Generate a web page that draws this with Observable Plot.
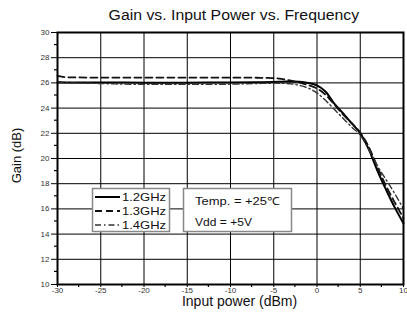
<!DOCTYPE html>
<html>
<head>
<meta charset="utf-8">
<script src="https://cdn.jsdelivr.net/npm/d3@7"></script>
<script src="https://cdn.jsdelivr.net/npm/@observablehq/plot@0.6"></script>
<style>
  body { margin: 0; background: #fff; font-family: "Liberation Sans", Arial, sans-serif; }
  #title { width: 407px; height: 26px; box-sizing: border-box; padding-left: 60px; text-align: center;
           font-size: 14px; line-height: 30px; color: #111; white-space: nowrap; }
  #title span { display: inline-block; transform: scaleX(1.13); }
  #chart svg { display: block; }
</style>
</head>
<body>
<div id="title"><span>Gain vs. Input Power vs. Frequency</span></div>
<div id="chart"></div>
<script>
// Input power sweep (dBm) and measured gain (dB) at each frequency
const inputPower = [-30, -29, -25, -20, -15, -10, -7, -5, -4, -3, -2, -1, 0, 1, 2, 3, 4, 5, 6, 7, 8, 9, 10];
const gain12GHz = [26.05, 26.04, 26.03, 26.02, 26.02, 26.03, 26.05, 26.08, 26.1, 26.12, 26.1, 26.0, 25.8, 25.3, 24.35, 23.6, 22.8, 22.0, 20.7, 19.0, 17.5, 16.1, 14.85];
const gain13GHz = [26.55, 26.45, 26.42, 26.42, 26.42, 26.42, 26.41, 26.38, 26.3, 26.18, 26.02, 25.82, 25.55, 25.05, 24.3, 23.5, 22.8, 22.05, 20.9, 19.3, 17.8, 16.5, 15.25];
const gain14GHz = [26.0, 26.0, 25.95, 25.88, 25.88, 25.9, 25.95, 25.98, 25.97, 25.92, 25.8, 25.58, 25.2, 24.6, 23.9, 23.2, 22.5, 21.85, 20.7, 19.4, 18.3, 17.2, 16.0];

const seriesNames = ["1.2GHz", "1.3GHz", "1.4GHz"];
const seriesGains = [gain12GHz, gain13GHz, gain14GHz];
const seriesDash = [null, "7,4", "6,3,1.5,3"];
const seriesWidth = [2, 1.8, 1.4];
const seriesColor = ["#000", "#111", "#333"];

const xTicks = [-30, -25, -20, -15, -10, -5, 0, 5, 10];
const xMinor = [-27.5, -22.5, -17.5, -12.5, -7.5, -2.5, 2.5, 7.5];
const yTicks = [10, 12, 14, 16, 18, 20, 22, 24, 26, 28, 30];
const yMinor = [11, 13, 15, 17, 19, 21, 23, 25, 27, 29];

const conditions = ["Temp. = +25\u2103", "Vdd = +5V"];

const rows = seriesNames.flatMap((name, i) =>
  inputPower.map((p, j) => ({series: name, pin: p, gain: seriesGains[i][j]}))
);

const tickFont = {fontSize: 8, fill: "#333"};

const chart = Plot.plot({
  width: 407,
  height: 301,
  marginTop: 6,
  marginBottom: 43,
  marginLeft: 57,
  marginRight: 4,
  style: {fontFamily: "Liberation Sans, Arial, sans-serif", background: "#fff", color: "#333"},
  x: {domain: [-30, 10]},
  y: {domain: [10, 30]},
  marks: [
    Plot.ruleX(xTicks, {stroke: "#000", strokeWidth: 1}),
    Plot.ruleY(yTicks, {stroke: "#000", strokeWidth: 1}),
    Plot.axisX(xTicks, {tickSize: 3, tickPadding: 0, tickFormat: d => String(d), label: null, stroke: "#000", ...tickFont}),
    Plot.axisY(yTicks, {tickSize: 6, tickPadding: 2, tickFormat: d => String(d), label: null, stroke: "#000", ...tickFont}),
    ...seriesNames.map((name, i) =>
      Plot.line(rows.filter(d => d.series === name), {
        x: "pin", y: "gain", curve: "monotone-x",
        stroke: seriesColor[i], strokeWidth: seriesWidth[i],
        strokeDasharray: seriesDash[i] ?? undefined
      })
    ),
    Plot.frame({stroke: "#000", strokeWidth: 2}),
    Plot.text(["Gain (dB)"], {frameAnchor: "left", rotate: -90, textAnchor: "middle", lineAnchor: "middle", dx: -41, dy: -3, fontSize: 13, fill: "#111"}),
    Plot.text(["Input power (dBm)"], {ariaLabel: "x-label", frameAnchor: "bottom", textAnchor: "middle", lineAnchor: "middle", dx: 9, dy: 17, fontSize: 14, fill: "#111"})
  ]
});

document.getElementById("chart").append(chart);

const svg = d3.select(chart);
svg.select('g[aria-label="x-label"] text').attr("textLength", 128).attr("lengthAdjust", "spacingAndGlyphs");

// Minor ticks on both axes, placed with the chart's own scales
const xs = chart.scale("x"), ys = chart.scale("y");
const x0 = 57, yBottom = 258;
const minor = svg.append("g").attr("stroke", "#000").attr("stroke-width", 1.2);
xMinor.forEach(v => {
  const px = xs.apply(v);
  minor.append("line").attr("x1", px).attr("x2", px).attr("y1", yBottom).attr("y2", yBottom + 3);
});
yMinor.forEach(v => {
  const py = ys.apply(v);
  minor.append("line").attr("x1", x0).attr("x2", x0 - 3).attr("y1", py).attr("y2", py);
});

// Legend boxes drawn inside the plotting area
const legend = svg.append("g")
  .attr("font-family", "Liberation Sans, Arial, sans-serif")
  .attr("font-size", 11)
  .attr("text-anchor", "start")
  .attr("fill", "#111");

legend.append("rect").attr("x", 92.5).attr("y", 162.5).attr("width", 77).attr("height", 43)
  .attr("fill", "#fff").attr("stroke", "#888").attr("stroke-width", 1.5);
const rowY = [171, 185, 199];
seriesNames.forEach((name, i) => {
  legend.append("line").attr("x1", 95).attr("x2", 120).attr("y1", rowY[i]).attr("y2", rowY[i])
    .attr("stroke", seriesColor[i]).attr("stroke-width", seriesWidth[i])
    .attr("stroke-dasharray", seriesDash[i]);
  legend.append("text").attr("x", 122).attr("y", rowY[i]).attr("dy", "0.36em")
    .attr("textLength", 44).attr("lengthAdjust", "spacingAndGlyphs").text(name);
});

legend.append("rect").attr("x", 183.5).attr("y", 162.5).attr("width", 108).attr("height", 43)
  .attr("fill", "#fff").attr("stroke", "#888").attr("stroke-width", 1.5);
const condY = [175, 196];
const condWidth = [85, 57];
conditions.forEach((t, i) => {
  legend.append("text").attr("x", 195).attr("y", condY[i]).attr("dy", "0.36em")
    .attr("textLength", condWidth[i]).attr("lengthAdjust", "spacingAndGlyphs").text(t);
});
</script>
</body>
</html>
